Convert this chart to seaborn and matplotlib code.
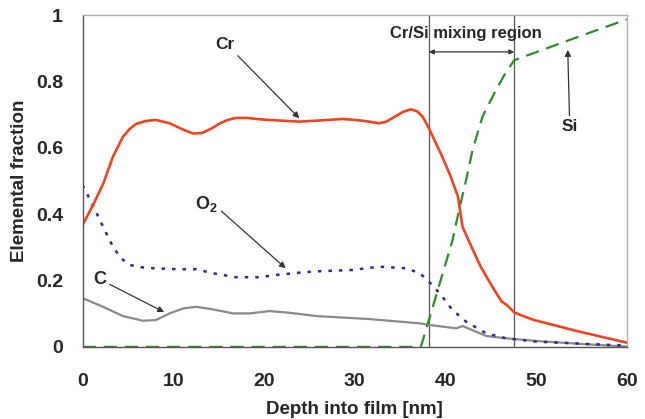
import matplotlib
matplotlib.use("Agg")
import matplotlib.pyplot as plt
import seaborn as sns
import numpy as np

# ---- data ----
cr_x = [0, 1.2, 2.3, 3.35, 4.45, 5.2, 5.9, 7.0, 8.1, 9.6, 10.9, 12.2, 13.2, 14.2, 15.1, 16.0,
        16.9, 18.2, 19.5, 20.6, 23.9, 26.5, 28.7, 30.8, 32.7, 33.5, 34.2, 35.3, 36.2, 36.9,
        37.5, 38.1, 39.5, 40.5, 41.4, 41.9, 43.0, 43.9, 45.0, 46.2, 46.8, 47.6, 48.5, 49.8,
        54.8, 60]
cr_y = [0.367, 0.43, 0.493, 0.573, 0.633, 0.657, 0.672, 0.681, 0.684, 0.674, 0.657, 0.643,
        0.645, 0.658, 0.673, 0.684, 0.690, 0.690, 0.686, 0.684, 0.679, 0.683, 0.687, 0.682,
        0.674, 0.679, 0.690, 0.708, 0.716, 0.71, 0.694, 0.664, 0.583, 0.52, 0.453, 0.362,
        0.295, 0.242, 0.19, 0.137, 0.126, 0.104, 0.094, 0.081, 0.046, 0.013]

si_x = [0, 37.3, 38.3, 39.5, 40.8, 41.6, 42.3, 43.0, 44.1, 45.4, 46.5, 47.6, 49.5, 53.7, 60]
si_y = [0.0, 0.0, 0.091, 0.202, 0.322, 0.423, 0.503, 0.593, 0.694, 0.764, 0.819, 0.864,
        0.883, 0.925, 0.987]

o2_x = [0, 1.2, 2.3, 3.35, 4.2, 5.2, 6.5, 7.8, 10.7, 12.5, 14.4, 16.9, 19.5, 21.4, 24.3, 26.1,
        29.8, 32.7, 35.7, 37.2, 38.3, 39.4, 40.8, 42.3, 44.5, 46.7, 50.1, 55.6, 60]
o2_y = [0.488, 0.423, 0.36, 0.302, 0.268, 0.247, 0.240, 0.237, 0.234, 0.234, 0.222, 0.210,
        0.210, 0.217, 0.225, 0.228, 0.232, 0.242, 0.237, 0.222, 0.194, 0.161, 0.111, 0.076,
        0.041, 0.026, 0.016, 0.009, 0.004]

c_x = [0, 2.25, 4.45, 6.65, 8.1, 9.6, 11.1, 12.5, 14.4, 16.6, 18.4, 20.6, 22.8, 25.8, 31.6,
       37.2, 38.3, 41.2, 41.9, 42.6, 44.5, 46.7, 50.0, 55.0, 60]
c_y = [0.147, 0.121, 0.093, 0.079, 0.081, 0.101, 0.116, 0.121, 0.113, 0.101, 0.101, 0.108,
       0.103, 0.093, 0.084, 0.071, 0.066, 0.056, 0.063, 0.055, 0.033, 0.026, 0.018, 0.009,
       0.001]

mix_bounds = [38.2, 47.6]
x_ticks = [0, 10, 20, 30, 40, 50, 60]
y_ticks = [0, 0.2, 0.4, 0.6, 0.8, 1]
y_tick_labels = ["0", "0.2", "0.4", "0.6", "0.8", "1"]

# ---- style ----
sns.set_style("white")
plt.rcParams["font.family"] = ["Liberation Sans", "DejaVu Sans"]
plt.rcParams["font.weight"] = "bold"
plt.rcParams["mathtext.fontset"] = "custom"
plt.rcParams["mathtext.rm"] = "Liberation Sans"
plt.rcParams["mathtext.bf"] = "Liberation Sans:bold"

fig = plt.figure(figsize=(6.45, 4.19), dpi=100)
ax = fig.add_axes([0.128, 0.172, 0.9716 - 0.128, 0.964 - 0.172])

# vertical lines bounding the mixing region
for b in mix_bounds:
    ax.axvline(b, color="#555555", lw=0.9, zorder=1)

sns.lineplot(x=c_x, y=c_y, ax=ax, color="#8a8a8a", lw=1.6, estimator=None, sort=False)
sns.lineplot(x=o2_x, y=o2_y, ax=ax, color="#2b2b96", lw=1.8, estimator=None, sort=False,
             linestyle=(0, (1.4, 2.8)))
sns.lineplot(x=si_x, y=si_y, ax=ax, color="#2e8b2e", lw=1.6, estimator=None, sort=False,
             linestyle=(0, (6, 3.5)))
sns.lineplot(x=cr_x, y=cr_y, ax=ax, color="#ee4422", lw=1.9, estimator=None, sort=False)

ax.set_xlim(0, 60)
ax.set_ylim(0, 1)
ax.set_xticks(x_ticks)
ax.set_xticks([5, 15, 25, 35, 45, 55], minor=True)
ax.set_yticks(y_ticks)
ax.set_yticklabels(y_tick_labels)
ax.tick_params(axis="both", which="both", direction="in", length=5, width=0.9,
               color="#555555", labelsize=14)
ax.tick_params(axis="y", pad=14)
ax.tick_params(axis="x", pad=19)
for lab in ax.get_xticklabels() + ax.get_yticklabels():
    lab.set_fontweight("bold")

for s in ["left", "bottom"]:
    ax.spines[s].set_color("#555555")
    ax.spines[s].set_linewidth(1.0)
for s in ["top", "right"]:
    ax.spines[s].set_color("#b0b0b0")
    ax.spines[s].set_linewidth(1.0)

ax.set_xlabel("Depth into film [nm]", fontsize=13.5, fontweight="bold", labelpad=8)
ax.set_ylabel("Elemental fraction", fontsize=13.5, fontweight="bold", labelpad=6)

arrow = dict(arrowstyle="-|>", color="#333333", lw=0.9, mutation_scale=9,
             shrinkA=0, shrinkB=0)
ax.annotate("Cr", xy=(23.9, 0.689), xytext=(15.7, 0.91), fontsize=12.5, fontweight="bold",
            ha="center", va="center", arrowprops=dict(arrow, relpos=(1.0, 0.0)))
ax.annotate(r"$\mathbf{O_2}$", xy=(22.4, 0.237), xytext=(13.7, 0.43), fontsize=13,
            ha="center", va="center", arrowprops=dict(arrow, relpos=(1.0, 0.3)))
ax.annotate("C", xy=(9.0, 0.105), xytext=(1.9, 0.204), fontsize=13, fontweight="bold",
            ha="center", va="center", arrowprops=dict(arrow, relpos=(1.0, 0.3)))
ax.annotate("Si", xy=(53.5, 0.895), xytext=(53.7, 0.665), fontsize=12.5, fontweight="bold",
            ha="center", va="center", arrowprops=dict(arrow, relpos=(0.5, 1.0)))

ax.annotate("", xy=(mix_bounds[0], 0.889), xytext=(mix_bounds[1], 0.889),
            arrowprops=dict(arrowstyle="<|-|>", color="#333333", lw=0.9, mutation_scale=7,
                            shrinkA=0, shrinkB=0))
ax.text(42.3, 0.946, "Cr/Si mixing region", fontsize=12, fontweight="bold",
        ha="center", va="center")

fig.savefig("out.png", dpi=100)
